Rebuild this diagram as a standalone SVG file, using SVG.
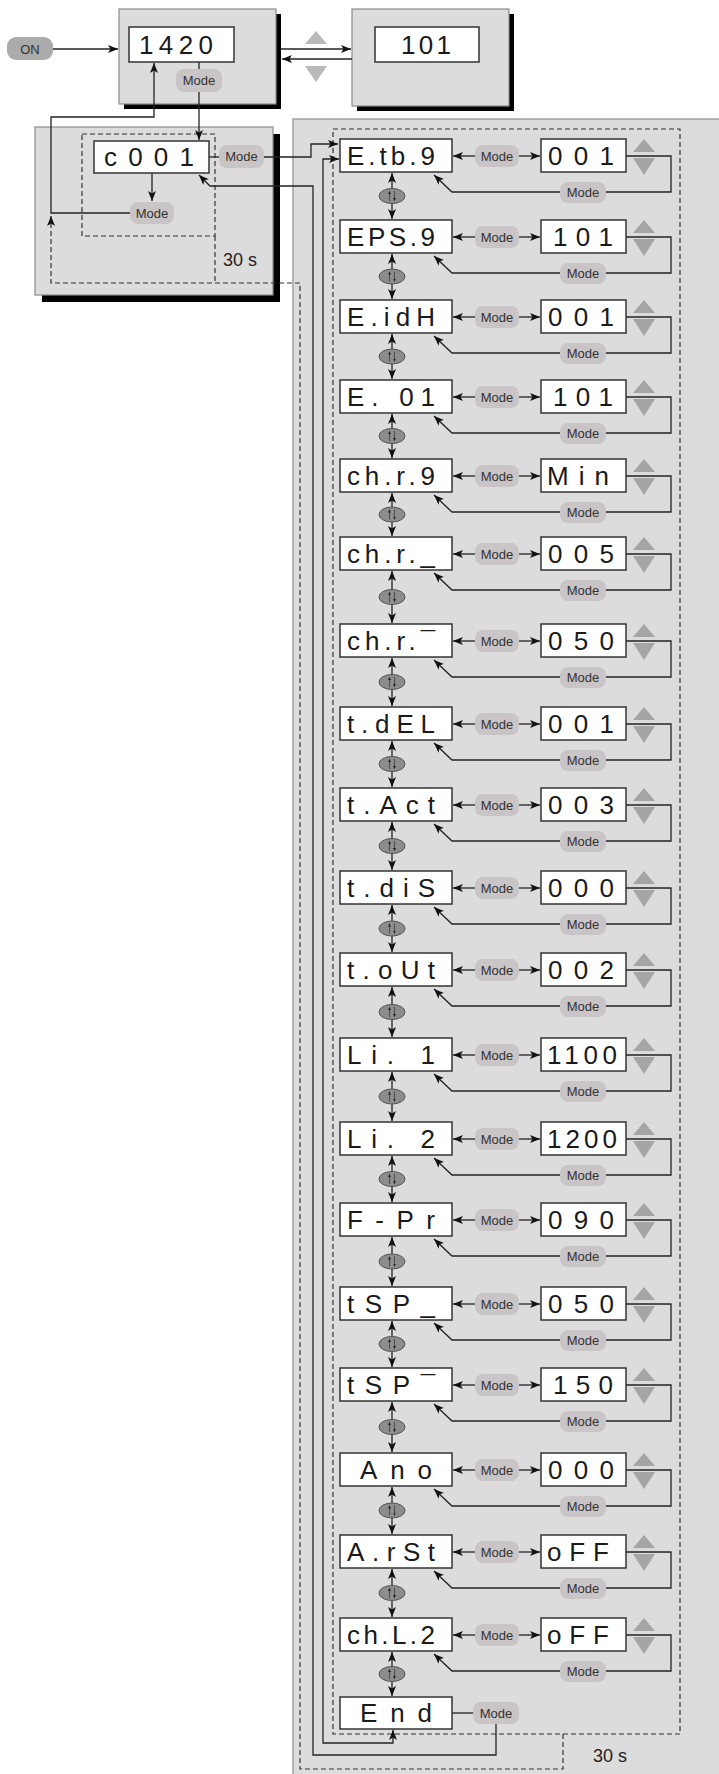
<svg xmlns="http://www.w3.org/2000/svg" xmlns:xlink="http://www.w3.org/1999/xlink" width="719" height="1774" viewBox="0 0 719 1774">
<style>
.box{fill:#dcdcdc;stroke:#8c8c8c;stroke-width:1.2}
.shd{fill:#000}
.disp{fill:#fff;stroke:#333;stroke-width:1.5}
.seg{font-family:"Liberation Sans",Arial,sans-serif;font-size:26px;fill:#1a1a1a}
.pill rect{fill:#c9c4c5}
.pill text{font-family:"Liberation Sans",Arial,sans-serif;font-size:13px;fill:#333;text-anchor:middle}
.ln{fill:none;stroke:#222;stroke-width:1.3}
.ar{marker-end:url(#a)}
.ar2{marker-start:url(#a);marker-end:url(#a)}
.dash{fill:none;stroke:#333;stroke-width:1.2;stroke-dasharray:5 3}
.lbl{font-family:"Liberation Sans",Arial,sans-serif;font-size:18px;fill:#222}
</style>
<defs>
<marker id="a" viewBox="0 0 10 8" refX="10" refY="4" markerWidth="10" markerHeight="8" markerUnits="userSpaceOnUse" orient="auto-start-reverse">
<path d="M0,0 L10,4 L0,8 L2.5,4 z" fill="#111"/>
</marker>
<marker id="sm" viewBox="0 0 4 4" refX="4" refY="2" markerWidth="3" markerHeight="3" markerUnits="userSpaceOnUse" orient="auto">
<path d="M0,0 L4,2 L0,4 z" fill="#222"/>
</marker>
<g id="ell">
<ellipse cx="0" cy="0" rx="13" ry="7.5" fill="#8d8d8d" stroke="#555" stroke-width="1"/>
<path d="M-2.5,5 V-5" stroke="#222" stroke-width="0.6" marker-end="url(#sm)"/>
<path d="M2.5,-5 V5" stroke="#222" stroke-width="0.6" marker-end="url(#sm)"/>
</g>
<g id="ud" fill="#a5a5a5">
<polygon points="11,0 0,13 22,13"/>
<polygon points="0,19 22,19 11,36"/>
</g>
</defs>

<!-- backgrounds -->
<rect x="293" y="119" width="440" height="1670" fill="#dcdcdc" stroke="#a0a0a0" stroke-width="1.5"/>
<g id="power-box">
<rect class="shd" x="124" y="14" width="157" height="95"/>
<rect class="box" x="119" y="9" width="157" height="95"/>
</g>
<g id="setpoint-box">
<rect class="shd" x="357" y="14" width="157" height="97"/>
<rect class="box" x="352" y="9" width="157" height="97"/>
</g>
<g id="code-box">
<rect class="shd" x="42" y="134" width="238" height="168"/>
<rect class="box" x="35" y="127" width="238" height="168"/>
</g>

<!-- dashed timeouts -->
<g id="timeouts">
<rect class="dash" x="82" y="134" width="133" height="102"/>
<path class="dash" d="M215,236 V283"/>
<path class="dash ar" d="M563,1734 V1769 H300 V283 H51 V216"/>
<rect class="dash" x="333" y="129" width="347" height="1605"/>
<text class="lbl" x="223" y="266">30 s</text>
<text class="lbl" x="593" y="1762">30 s</text>
</g>

<!-- connectors -->
<g id="connectors" class="ln">
<line class="ar" x1="53" y1="49" x2="118" y2="49"/>
<line class="ar" x1="281" y1="49" x2="351" y2="49"/>
<line class="ar" x1="352" y1="59" x2="282" y2="59"/>
<line x1="199" y1="62" x2="199" y2="69"/>
<line class="ar" x1="199" y1="92" x2="199" y2="140"/>
<line class="ar" x1="152" y1="173" x2="152" y2="201"/>
<path class="ar" d="M130,213 H51 V117 H154 V63"/>
<line x1="209" y1="157" x2="219" y2="157"/>
<path class="ar" d="M264,157 H311 V144 H338"/>
<path class="ar" d="M496,1724 V1755 H313 V186 H210 L199,175"/>
<path class="ar2" d="M393,1730 V1743 H323 V159 H339"/>
<line x1="452" y1="1713" x2="473" y2="1713"/>

<line class="ar" x1="475" y1="156" x2="453" y2="156"/><line class="ar" x1="519" y1="156" x2="540" y2="156"/><path class="ar" d="M626,156H671V192H452L434,175"/>
<line class="ar" x1="475" y1="237" x2="453" y2="237"/><line class="ar" x1="519" y1="237" x2="540" y2="237"/><path class="ar" d="M626,237H671V273H452L434,256"/>
<line class="ar" x1="475" y1="317" x2="453" y2="317"/><line class="ar" x1="519" y1="317" x2="540" y2="317"/><path class="ar" d="M626,317H671V353H452L434,336"/>
<line class="ar" x1="475" y1="397" x2="453" y2="397"/><line class="ar" x1="519" y1="397" x2="540" y2="397"/><path class="ar" d="M626,397H671V433H452L434,416"/>
<line class="ar" x1="475" y1="476" x2="453" y2="476"/><line class="ar" x1="519" y1="476" x2="540" y2="476"/><path class="ar" d="M626,476H671V512H452L434,495"/>
<line class="ar" x1="475" y1="554" x2="453" y2="554"/><line class="ar" x1="519" y1="554" x2="540" y2="554"/><path class="ar" d="M626,554H671V590H452L434,573"/>
<line class="ar" x1="475" y1="641" x2="453" y2="641"/><line class="ar" x1="519" y1="641" x2="540" y2="641"/><path class="ar" d="M626,641H671V677H452L434,660"/>
<line class="ar" x1="475" y1="724" x2="453" y2="724"/><line class="ar" x1="519" y1="724" x2="540" y2="724"/><path class="ar" d="M626,724H671V760H452L434,743"/>
<line class="ar" x1="475" y1="805" x2="453" y2="805"/><line class="ar" x1="519" y1="805" x2="540" y2="805"/><path class="ar" d="M626,805H671V841H452L434,824"/>
<line class="ar" x1="475" y1="888" x2="453" y2="888"/><line class="ar" x1="519" y1="888" x2="540" y2="888"/><path class="ar" d="M626,888H671V924H452L434,907"/>
<line class="ar" x1="475" y1="970" x2="453" y2="970"/><line class="ar" x1="519" y1="970" x2="540" y2="970"/><path class="ar" d="M626,970H671V1006H452L434,989"/>
<line class="ar" x1="475" y1="1055" x2="453" y2="1055"/><line class="ar" x1="519" y1="1055" x2="540" y2="1055"/><path class="ar" d="M626,1055H671V1091H452L434,1074"/>
<line class="ar" x1="475" y1="1139" x2="453" y2="1139"/><line class="ar" x1="519" y1="1139" x2="540" y2="1139"/><path class="ar" d="M626,1139H671V1175H452L434,1158"/>
<line class="ar" x1="475" y1="1220" x2="453" y2="1220"/><line class="ar" x1="519" y1="1220" x2="540" y2="1220"/><path class="ar" d="M626,1220H671V1256H452L434,1239"/>
<line class="ar" x1="475" y1="1304" x2="453" y2="1304"/><line class="ar" x1="519" y1="1304" x2="540" y2="1304"/><path class="ar" d="M626,1304H671V1340H452L434,1323"/>
<line class="ar" x1="475" y1="1385" x2="453" y2="1385"/><line class="ar" x1="519" y1="1385" x2="540" y2="1385"/><path class="ar" d="M626,1385H671V1421H452L434,1404"/>
<line class="ar" x1="475" y1="1470" x2="453" y2="1470"/><line class="ar" x1="519" y1="1470" x2="540" y2="1470"/><path class="ar" d="M626,1470H671V1506H452L434,1489"/>
<line class="ar" x1="475" y1="1552" x2="453" y2="1552"/><line class="ar" x1="519" y1="1552" x2="540" y2="1552"/><path class="ar" d="M626,1552H671V1588H452L434,1571"/>
<line class="ar" x1="475" y1="1635" x2="453" y2="1635"/><line class="ar" x1="519" y1="1635" x2="540" y2="1635"/><path class="ar" d="M626,1635H671V1671H452L434,1654"/>

<line class="ar2" x1="392" y1="173" x2="392" y2="219"/>
<line class="ar2" x1="392" y1="254" x2="392" y2="299"/>
<line class="ar2" x1="392" y1="334" x2="392" y2="379"/>
<line class="ar2" x1="392" y1="414" x2="392" y2="458"/>
<line class="ar2" x1="392" y1="493" x2="392" y2="536"/>
<line class="ar2" x1="392" y1="571" x2="392" y2="623"/>
<line class="ar2" x1="392" y1="658" x2="392" y2="706"/>
<line class="ar2" x1="392" y1="741" x2="392" y2="787"/>
<line class="ar2" x1="392" y1="822" x2="392" y2="870"/>
<line class="ar2" x1="392" y1="905" x2="392" y2="952"/>
<line class="ar2" x1="392" y1="987" x2="392" y2="1037"/>
<line class="ar2" x1="392" y1="1072" x2="392" y2="1121"/>
<line class="ar2" x1="392" y1="1156" x2="392" y2="1202"/>
<line class="ar2" x1="392" y1="1237" x2="392" y2="1286"/>
<line class="ar2" x1="392" y1="1321" x2="392" y2="1367"/>
<line class="ar2" x1="392" y1="1402" x2="392" y2="1452"/>
<line class="ar2" x1="392" y1="1487" x2="392" y2="1534"/>
<line class="ar2" x1="392" y1="1569" x2="392" y2="1617"/>
<line class="ar2" x1="392" y1="1652" x2="392" y2="1696"/>
</g>

<!-- scroll ellipses -->
<g id="scroll-keys">
<use xlink:href="#ell" x="392" y="196"/>
<use xlink:href="#ell" x="392" y="276.5"/>
<use xlink:href="#ell" x="392" y="356.5"/>
<use xlink:href="#ell" x="392" y="436"/>
<use xlink:href="#ell" x="392" y="514.5"/>
<use xlink:href="#ell" x="392" y="597"/>
<use xlink:href="#ell" x="392" y="682"/>
<use xlink:href="#ell" x="392" y="764"/>
<use xlink:href="#ell" x="392" y="846"/>
<use xlink:href="#ell" x="392" y="928.5"/>
<use xlink:href="#ell" x="392" y="1012"/>
<use xlink:href="#ell" x="392" y="1096.5"/>
<use xlink:href="#ell" x="392" y="1179"/>
<use xlink:href="#ell" x="392" y="1261.5"/>
<use xlink:href="#ell" x="392" y="1344"/>
<use xlink:href="#ell" x="392" y="1427"/>
<use xlink:href="#ell" x="392" y="1510.5"/>
<use xlink:href="#ell" x="392" y="1593"/>
<use xlink:href="#ell" x="392" y="1674"/>
</g>

<!-- up/down keys -->
<g id="updown-keys">
<polygon points="316,31 305,44 327,44" fill="#b9b9b9"/>
<polygon points="305,66 327,66 316,82" fill="#b9b9b9"/>
<use xlink:href="#ud" x="633" y="139"/>
<use xlink:href="#ud" x="633" y="220"/>
<use xlink:href="#ud" x="633" y="300"/>
<use xlink:href="#ud" x="633" y="380"/>
<use xlink:href="#ud" x="633" y="459"/>
<use xlink:href="#ud" x="633" y="537"/>
<use xlink:href="#ud" x="633" y="624"/>
<use xlink:href="#ud" x="633" y="707"/>
<use xlink:href="#ud" x="633" y="788"/>
<use xlink:href="#ud" x="633" y="871"/>
<use xlink:href="#ud" x="633" y="953"/>
<use xlink:href="#ud" x="633" y="1038"/>
<use xlink:href="#ud" x="633" y="1122"/>
<use xlink:href="#ud" x="633" y="1203"/>
<use xlink:href="#ud" x="633" y="1287"/>
<use xlink:href="#ud" x="633" y="1368"/>
<use xlink:href="#ud" x="633" y="1453"/>
<use xlink:href="#ud" x="633" y="1535"/>
<use xlink:href="#ud" x="633" y="1618"/>
</g>

<!-- Mode / ON pills -->
<g id="pills" class="pill">
<g id="on"><rect x="7" y="37" width="46" height="23" rx="9" style="fill:#ababab"/><text x="30" y="53.5">ON</text></g>
<rect x="176" y="69" width="46" height="23" rx="8"/><text x="199" y="85">Mode</text>
<rect x="219" y="145" width="45" height="23" rx="8"/><text x="241.5" y="161">Mode</text>
<rect x="130" y="202" width="44" height="22" rx="8"/><text x="152" y="217.5">Mode</text>
<rect x="473" y="1702" width="46" height="22" rx="8"/><text x="496" y="1717.5">Mode</text>

<rect x="475" y="145" width="44" height="22" rx="8"/><text x="497" y="160.5">Mode</text><rect x="560" y="182" width="46" height="21" rx="8"/><text x="583" y="197">Mode</text>
<rect x="475" y="226" width="44" height="22" rx="8"/><text x="497" y="241.5">Mode</text><rect x="560" y="263" width="46" height="21" rx="8"/><text x="583" y="278">Mode</text>
<rect x="475" y="306" width="44" height="22" rx="8"/><text x="497" y="321.5">Mode</text><rect x="560" y="343" width="46" height="21" rx="8"/><text x="583" y="358">Mode</text>
<rect x="475" y="386" width="44" height="22" rx="8"/><text x="497" y="401.5">Mode</text><rect x="560" y="423" width="46" height="21" rx="8"/><text x="583" y="438">Mode</text>
<rect x="475" y="465" width="44" height="22" rx="8"/><text x="497" y="480.5">Mode</text><rect x="560" y="502" width="46" height="21" rx="8"/><text x="583" y="517">Mode</text>
<rect x="475" y="543" width="44" height="22" rx="8"/><text x="497" y="558.5">Mode</text><rect x="560" y="580" width="46" height="21" rx="8"/><text x="583" y="595">Mode</text>
<rect x="475" y="630" width="44" height="22" rx="8"/><text x="497" y="645.5">Mode</text><rect x="560" y="667" width="46" height="21" rx="8"/><text x="583" y="682">Mode</text>
<rect x="475" y="713" width="44" height="22" rx="8"/><text x="497" y="728.5">Mode</text><rect x="560" y="750" width="46" height="21" rx="8"/><text x="583" y="765">Mode</text>
<rect x="475" y="794" width="44" height="22" rx="8"/><text x="497" y="809.5">Mode</text><rect x="560" y="831" width="46" height="21" rx="8"/><text x="583" y="846">Mode</text>
<rect x="475" y="877" width="44" height="22" rx="8"/><text x="497" y="892.5">Mode</text><rect x="560" y="914" width="46" height="21" rx="8"/><text x="583" y="929">Mode</text>
<rect x="475" y="959" width="44" height="22" rx="8"/><text x="497" y="974.5">Mode</text><rect x="560" y="996" width="46" height="21" rx="8"/><text x="583" y="1011">Mode</text>
<rect x="475" y="1044" width="44" height="22" rx="8"/><text x="497" y="1059.5">Mode</text><rect x="560" y="1081" width="46" height="21" rx="8"/><text x="583" y="1096">Mode</text>
<rect x="475" y="1128" width="44" height="22" rx="8"/><text x="497" y="1143.5">Mode</text><rect x="560" y="1165" width="46" height="21" rx="8"/><text x="583" y="1180">Mode</text>
<rect x="475" y="1209" width="44" height="22" rx="8"/><text x="497" y="1224.5">Mode</text><rect x="560" y="1246" width="46" height="21" rx="8"/><text x="583" y="1261">Mode</text>
<rect x="475" y="1293" width="44" height="22" rx="8"/><text x="497" y="1308.5">Mode</text><rect x="560" y="1330" width="46" height="21" rx="8"/><text x="583" y="1345">Mode</text>
<rect x="475" y="1374" width="44" height="22" rx="8"/><text x="497" y="1389.5">Mode</text><rect x="560" y="1411" width="46" height="21" rx="8"/><text x="583" y="1426">Mode</text>
<rect x="475" y="1459" width="44" height="22" rx="8"/><text x="497" y="1474.5">Mode</text><rect x="560" y="1496" width="46" height="21" rx="8"/><text x="583" y="1511">Mode</text>
<rect x="475" y="1541" width="44" height="22" rx="8"/><text x="497" y="1556.5">Mode</text><rect x="560" y="1578" width="46" height="21" rx="8"/><text x="583" y="1593">Mode</text>
<rect x="475" y="1624" width="44" height="22" rx="8"/><text x="497" y="1639.5">Mode</text><rect x="560" y="1661" width="46" height="21" rx="8"/><text x="583" y="1676">Mode</text>
</g>

<!-- display nodes -->
<g id="d-1420"><rect class="disp" x="129" y="27" width="105" height="35"/><text class="seg" x="139" y="54" textLength="74" lengthAdjust="spacing">1420</text></g>
<g id="d-101-top"><rect class="disp" x="375" y="27" width="104" height="35"/><text class="seg" x="401" y="54" textLength="50" lengthAdjust="spacing">101</text></g>
<g id="d-c001"><rect class="disp" x="94" y="141" width="115" height="32"/><text class="seg" x="104" y="166" textLength="90" lengthAdjust="spacing">c001</text></g>

<g id="p-Etb9"><rect class="disp" x="340" y="139" width="112" height="33"/><text class="seg" x="347" y="165" textLength="88" lengthAdjust="spacing">E.tb.9</text></g>
<g id="v-Etb9"><rect class="disp" x="541" y="139" width="85" height="33"/><text class="seg" x="548" y="165" textLength="66" lengthAdjust="spacing">001</text></g>
<g id="p-EPS9"><rect class="disp" x="340" y="220" width="112" height="33"/><text class="seg" x="347" y="246" textLength="88" lengthAdjust="spacing">EPS.9</text></g>
<g id="v-EPS9"><rect class="disp" x="541" y="220" width="85" height="33"/><text class="seg" x="553" y="246" textLength="60" lengthAdjust="spacing">101</text></g>
<g id="p-EidH"><rect class="disp" x="340" y="300" width="112" height="33"/><text class="seg" x="347" y="326" textLength="88" lengthAdjust="spacing">E.idH</text></g>
<g id="v-EidH"><rect class="disp" x="541" y="300" width="85" height="33"/><text class="seg" x="548" y="326" textLength="66" lengthAdjust="spacing">001</text></g>
<g id="p-E01"><rect class="disp" x="340" y="380" width="112" height="33"/><text class="seg" x="347" y="406" textLength="88" lengthAdjust="spacing">E. 01</text></g>
<g id="v-E01"><rect class="disp" x="541" y="380" width="85" height="33"/><text class="seg" x="553" y="406" textLength="60" lengthAdjust="spacing">101</text></g>
<g id="p-chr9"><rect class="disp" x="340" y="459" width="112" height="33"/><text class="seg" x="347" y="485" textLength="88" lengthAdjust="spacing">ch.r.9</text></g>
<g id="v-chr9"><rect class="disp" x="541" y="459" width="85" height="33"/><text class="seg" x="547" y="485" textLength="62" lengthAdjust="spacing">Min</text></g>
<g id="p-chrlo"><rect class="disp" x="340" y="537" width="112" height="33"/><text class="seg" x="347" y="563" textLength="88" lengthAdjust="spacing">ch.r._</text></g>
<g id="v-chrlo"><rect class="disp" x="541" y="537" width="85" height="33"/><text class="seg" x="548" y="563" textLength="66" lengthAdjust="spacing">005</text></g>
<g id="p-chrhi"><rect class="disp" x="340" y="624" width="112" height="33"/><text class="seg" x="347" y="650" textLength="88" lengthAdjust="spacing">ch.r.¯</text></g>
<g id="v-chrhi"><rect class="disp" x="541" y="624" width="85" height="33"/><text class="seg" x="548" y="650" textLength="66" lengthAdjust="spacing">050</text></g>
<g id="p-tdEL"><rect class="disp" x="340" y="707" width="112" height="33"/><text class="seg" x="347" y="733" textLength="88" lengthAdjust="spacing">t.dEL</text></g>
<g id="v-tdEL"><rect class="disp" x="541" y="707" width="85" height="33"/><text class="seg" x="548" y="733" textLength="66" lengthAdjust="spacing">001</text></g>
<g id="p-tAct"><rect class="disp" x="340" y="788" width="112" height="33"/><text class="seg" x="347" y="814" textLength="88" lengthAdjust="spacing">t.Act</text></g>
<g id="v-tAct"><rect class="disp" x="541" y="788" width="85" height="33"/><text class="seg" x="548" y="814" textLength="66" lengthAdjust="spacing">003</text></g>
<g id="p-tdiS"><rect class="disp" x="340" y="871" width="112" height="33"/><text class="seg" x="347" y="897" textLength="88" lengthAdjust="spacing">t.diS</text></g>
<g id="v-tdiS"><rect class="disp" x="541" y="871" width="85" height="33"/><text class="seg" x="548" y="897" textLength="66" lengthAdjust="spacing">000</text></g>
<g id="p-toUt"><rect class="disp" x="340" y="953" width="112" height="33"/><text class="seg" x="347" y="979" textLength="88" lengthAdjust="spacing">t.oUt</text></g>
<g id="v-toUt"><rect class="disp" x="541" y="953" width="85" height="33"/><text class="seg" x="548" y="979" textLength="66" lengthAdjust="spacing">002</text></g>
<g id="p-Li1"><rect class="disp" x="340" y="1038" width="112" height="33"/><text class="seg" x="347" y="1064" textLength="88" lengthAdjust="spacing">Li. 1</text></g>
<g id="v-Li1"><rect class="disp" x="541" y="1038" width="85" height="33"/><text class="seg" x="547" y="1064" textLength="70" lengthAdjust="spacing">1100</text></g>
<g id="p-Li2"><rect class="disp" x="340" y="1122" width="112" height="33"/><text class="seg" x="347" y="1148" textLength="88" lengthAdjust="spacing">Li. 2</text></g>
<g id="v-Li2"><rect class="disp" x="541" y="1122" width="85" height="33"/><text class="seg" x="547" y="1148" textLength="70" lengthAdjust="spacing">1200</text></g>
<g id="p-FPr"><rect class="disp" x="340" y="1203" width="112" height="33"/><text class="seg" x="347" y="1229" textLength="88" lengthAdjust="spacing">F-Pr</text></g>
<g id="v-FPr"><rect class="disp" x="541" y="1203" width="85" height="33"/><text class="seg" x="548" y="1229" textLength="66" lengthAdjust="spacing">090</text></g>
<g id="p-tSPlo"><rect class="disp" x="340" y="1287" width="112" height="33"/><text class="seg" x="347" y="1313" textLength="88" lengthAdjust="spacing">tSP_</text></g>
<g id="v-tSPlo"><rect class="disp" x="541" y="1287" width="85" height="33"/><text class="seg" x="548" y="1313" textLength="66" lengthAdjust="spacing">050</text></g>
<g id="p-tSPhi"><rect class="disp" x="340" y="1368" width="112" height="33"/><text class="seg" x="347" y="1394" textLength="88" lengthAdjust="spacing">tSP¯</text></g>
<g id="v-tSPhi"><rect class="disp" x="541" y="1368" width="85" height="33"/><text class="seg" x="553" y="1394" textLength="60" lengthAdjust="spacing">150</text></g>
<g id="p-Ano"><rect class="disp" x="340" y="1453" width="112" height="33"/><text class="seg" x="360" y="1479" textLength="72" lengthAdjust="spacing">Ano</text></g>
<g id="v-Ano"><rect class="disp" x="541" y="1453" width="85" height="33"/><text class="seg" x="548" y="1479" textLength="66" lengthAdjust="spacing">000</text></g>
<g id="p-ArSt"><rect class="disp" x="340" y="1535" width="112" height="33"/><text class="seg" x="347" y="1561" textLength="88" lengthAdjust="spacing">A.rSt</text></g>
<g id="v-ArSt"><rect class="disp" x="541" y="1535" width="85" height="33"/><text class="seg" x="547" y="1561" textLength="62" lengthAdjust="spacing">oFF</text></g>
<g id="p-chL2"><rect class="disp" x="340" y="1618" width="112" height="33"/><text class="seg" x="347" y="1644" textLength="88" lengthAdjust="spacing">ch.L.2</text></g>
<g id="v-chL2"><rect class="disp" x="541" y="1618" width="85" height="33"/><text class="seg" x="547" y="1644" textLength="62" lengthAdjust="spacing">oFF</text></g>
<g id="p-End"><rect class="disp" x="340" y="1697" width="112" height="32"/><text class="seg" x="360" y="1722" textLength="72" lengthAdjust="spacing">End</text></g>
</svg>
